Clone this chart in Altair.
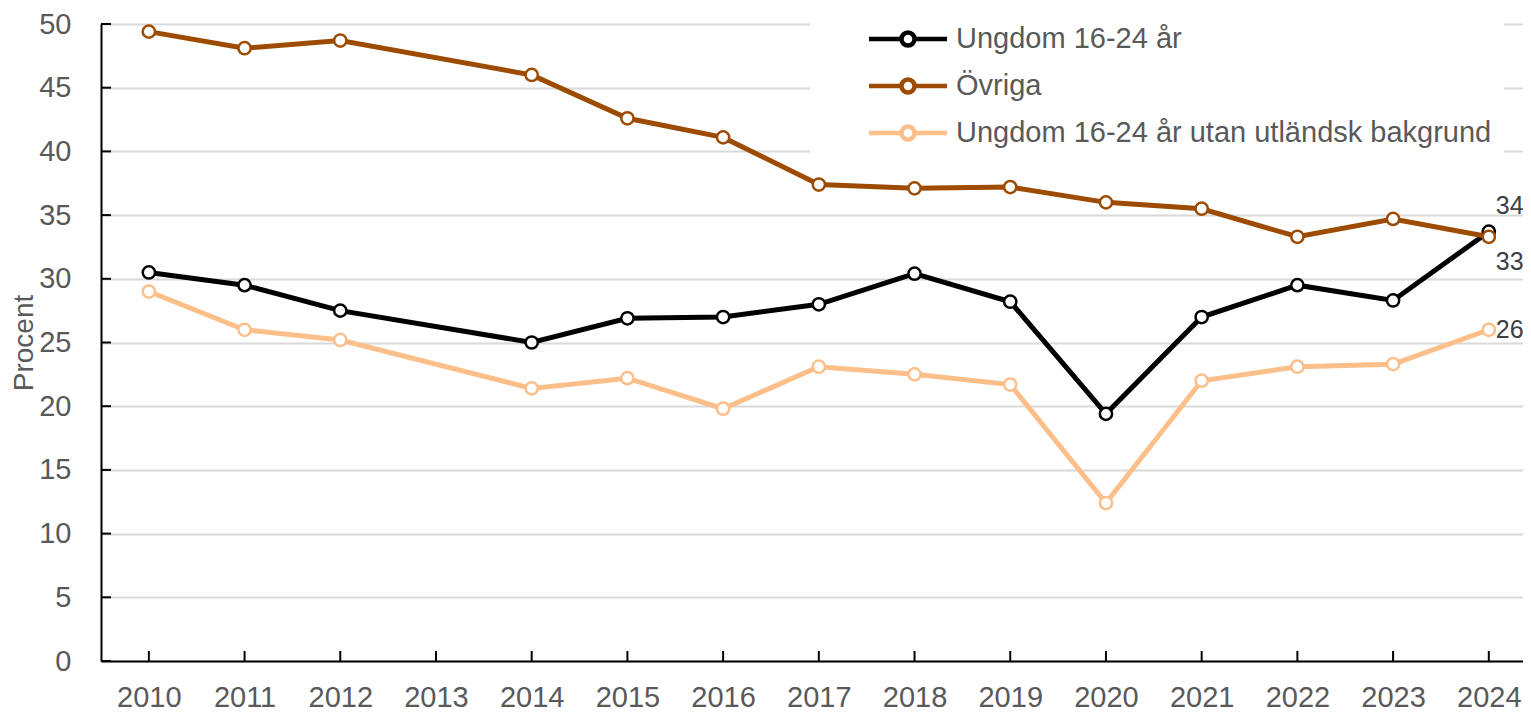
import altair as alt
import pandas as pd

years = [2010, 2011, 2012, 2014, 2015, 2016, 2017, 2018, 2019, 2020, 2021, 2022, 2023, 2024]
ungdom = [30.5, 29.5, 27.5, 25.0, 26.9, 27.0, 28.0, 30.4, 28.2, 19.4, 27.0, 29.5, 28.3, 33.7]
ovriga = [49.4, 48.1, 48.7, 46.0, 42.6, 41.1, 37.4, 37.1, 37.2, 36.0, 35.5, 33.3, 34.7, 33.3]
utan = [29.0, 26.0, 25.2, 21.4, 22.2, 19.8, 23.1, 22.5, 21.7, 12.4, 22.0, 23.1, 23.3, 26.0]

series_names = ["Ungdom 16-24 år", "Övriga", "Ungdom 16-24 år utan utländsk bakgrund"]
series_colors = ["#000000", "#9E4B02", "#FCBF8A"]
tick_years = list(range(2010, 2025))
y_ticks = list(range(0, 55, 5))

rows = []
for name, vals in [(series_names[2], utan), (series_names[0], ungdom), (series_names[1], ovriga)]:
    for yr, v in zip(years, vals):
        rows.append({"year": yr, "value": v, "serie": name})
df = pd.DataFrame(rows)

FONT = "Liberation Sans"
W, H = 1422, 637
STEP = 95.71

color_scale = alt.Scale(domain=series_names, range=series_colors)
x_enc = alt.X("year:Q", scale=alt.Scale(domain=[2009.5, 2009.5 + W / STEP], nice=False, zero=False),
              axis=alt.Axis(values=tick_years, format="d", title=None, grid=False, ticks=False,
                            labelPadding=22, domainColor="black", domainWidth=2,
                            labelFontSize=29, labelColor="#595959", labelFont=FONT))
y_enc = alt.Y("value:Q", scale=alt.Scale(domain=[0, 50], nice=False),
              axis=alt.Axis(values=y_ticks, title="Procent", grid=True, gridColor="#d9d9d9",
                            gridWidth=2, ticks=False, labelPadding=30, domainColor="black",
                            domainWidth=2, labelFontSize=29, labelColor="#595959",
                            labelFont=FONT, titleFont=FONT, titleFontSize=28,
                            titleFontWeight="normal", titleColor="#595959", titlePadding=0))

# legend symbol: line with open circle, drawn wider than its nominal size
sym = ("M-2.69,0L-0.45,0M0.45,0L2.69,0"
       "M-0.45,0A0.45,0.45,0,1,1,0.45,0A0.45,0.45,0,1,1,-0.45,0Z")
legend = alt.Legend(title=None, orient="none", legendX=709, legendY=-14, fillColor="white",
                    padding=12, symbolOffset=69, symbolType=sym, symbolSize=841,
                    symbolStrokeWidth=4.5, symbolFillColor="white", labelFontSize=29,
                    labelFont=FONT, labelColor="#595959", labelOffset=31, rowPadding=14,
                    labelLimit=0)

base = alt.Chart(df)
lines = base.mark_line(strokeWidth=5).encode(
    x=x_enc, y=y_enc,
    color=alt.Color("serie:N", scale=color_scale, legend=legend),
    detail="serie:N",
)
points = base.mark_point(shape="circle", filled=False, fill="white", fillOpacity=1,
                         size=150, strokeWidth=2.5, opacity=1).encode(
    x="year:Q", y="value:Q",
    color=alt.Color("serie:N", scale=color_scale, legend=legend),
)

tick_df_x = pd.DataFrame({"year": tick_years})
tick_df_y = pd.DataFrame({"value": y_ticks})
xticks = alt.Chart(tick_df_x).mark_rule(color="black", strokeWidth=2).encode(
    x="year:Q", y=alt.value(H - 10), y2=alt.value(H))
yticks = alt.Chart(tick_df_y).mark_rule(color="black", strokeWidth=2).encode(
    y="value:Q", x=alt.value(0), x2=alt.value(10))

def end_label(name, dy):
    return base.transform_filter(
        (alt.datum.serie == name) & (alt.datum.year == 2024)
    ).transform_calculate(lbl="format(datum.value, '.0f')").mark_text(
        align="left", baseline="middle", dx=7, dy=dy, fontSize=25, font=FONT, color="#404040"
    ).encode(x="year:Q", y="value:Q", text="lbl:N")

labels = end_label(series_names[0], -26) + end_label(series_names[1], 25) + end_label(series_names[2], 0)

chart = alt.layer(xticks, yticks, lines, points, labels).properties(
    width=W, height=H,
    autosize=alt.AutoSizeParams(type="none"),
    padding={"left": 93, "top": 16, "right": 0, "bottom": 50},
).configure_view(stroke=None).configure(background="white")

chart.save("out.html", embed_options={"renderer": "svg", "actions": False})
